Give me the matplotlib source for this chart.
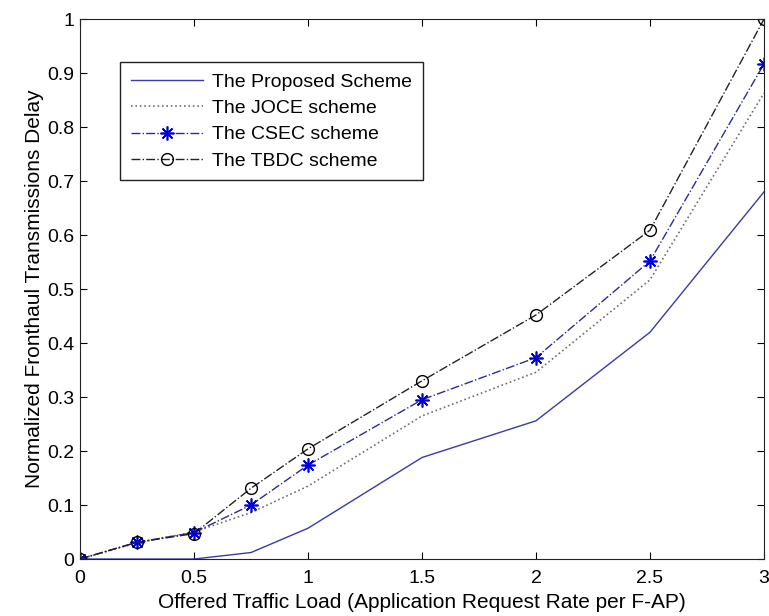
import matplotlib.pyplot as plt
import numpy as np

plt.rcParams['font.family'] = ['Liberation Sans', 'DejaVu Sans']

# Offered traffic load (x axis)
load = [0, 0.25, 0.5, 0.75, 1.0, 1.5, 2.0, 2.5, 3.0]

# Normalized fronthaul delay per scheme
proposed = [0, 0, 0, 0.012, 0.057, 0.188, 0.256, 0.42, 0.68]
joce = [0, 0.03, 0.05, 0.086, 0.135, 0.265, 0.346, 0.517, 0.863]
csec = [0, 0.031, 0.049, 0.100, 0.174, 0.295, 0.373, 0.552, 0.917]
tbdc = [0, 0.031, 0.047, 0.131, 0.204, 0.330, 0.452, 0.609, 1.0]

labels = ["The Proposed Scheme", "The JOCE scheme", "The CSEC scheme", "The TBDC scheme"]

fig = plt.figure(figsize=(7.69, 6.16), dpi=100)
ax = fig.add_axes([0.104, 0.0925, 0.8895, 0.8765])

ax.plot(load, proposed, '-', color='#3a3aa8', lw=1.0, label=labels[0])
ax.plot(load, joce, ':', color='#7a6a6a', lw=1.2, label=labels[1])
ax.plot(load, csec, '-.', color='#2a2aa0', lw=1.0, marker=(8, 2, 0), ms=10, mew=1.2,
        mfc='#0000dd', mec='#0000dd', label=labels[2])
ax.plot(load, tbdc, '-.', color='#222222', lw=1.0, marker='o', ms=8.5,
        mfc='none', mec='black', label=labels[3])

ax.set_xlim(0, 3)
ax.set_ylim(0, 1)
ax.set_xticks([0, 0.5, 1, 1.5, 2, 2.5, 3])
ax.set_xticklabels(['0', '0.5', '1', '1.5', '2', '2.5', '3'])
ax.set_yticks(np.arange(0, 1.01, 0.1))
ax.set_yticklabels(['0', '0.1', '0.2', '0.3', '0.4', '0.5', '0.6', '0.7', '0.8', '0.9', '1'])
ax.tick_params(direction='in', top=True, right=True, labelsize=14, length=5)
ax.tick_params(axis='x', pad=8)
ax.tick_params(axis='y', pad=4)
for s in ax.spines.values():
    s.set_color('#222222')

ax.set_xlabel("Offered Traffic Load (Application Request Rate per F-AP)", fontsize=15, labelpad=4)
ax.set_ylabel("Normalized Fronthaul Transmissions Delay", fontsize=15, labelpad=2)

leg = ax.legend(loc='upper left', bbox_to_anchor=(0.0585, 0.92), borderaxespad=0,
                fontsize=14, fancybox=False, framealpha=1, edgecolor='#222222',
                handlelength=3.7, labelspacing=0.45, borderpad=0.55, handletextpad=0.5)
leg.get_frame().set_linewidth(1.0)

fig.savefig('out.png', dpi=100)
